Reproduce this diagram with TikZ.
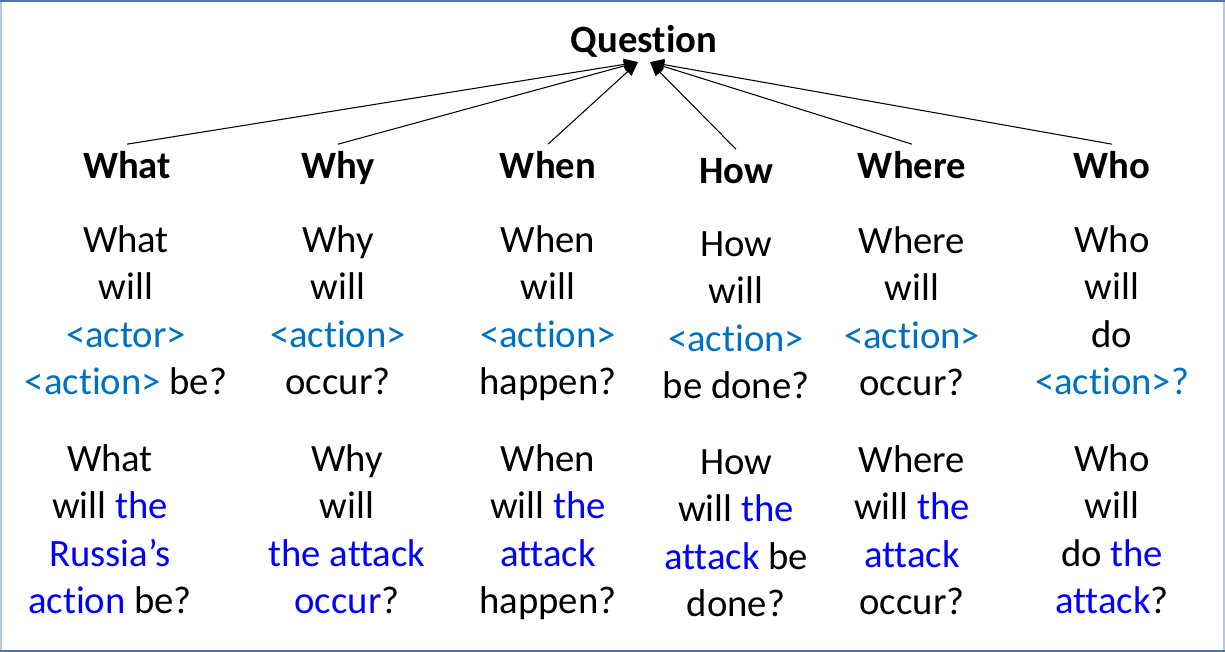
\documentclass[tikz,border=0pt]{standalone}
\usepackage{fontspec}
\setmainfont{Carlito}[Ligatures=NoCommon]
\usepackage{xcolor}
\usepackage{tikz}
\usetikzlibrary{arrows.meta}
\definecolor{slot}{HTML}{0070C0}
\definecolor{inst}{HTML}{0000FF}
\definecolor{framedark}{HTML}{4F75A3}
\definecolor{framelite}{HTML}{B4C8E2}
\newcommand{\plh}[1]{\textcolor{slot}{#1}}
\newcommand{\atk}[1]{\textcolor{inst}{#1}}

\begin{document}
\begin{tikzpicture}[x=0.01cm,y=-0.01cm,
  head/.style={font=\fontsize{11}{13.45}\selectfont\bfseries,anchor=base,
               text height=7pt,text depth=0pt,inner xsep=0pt,inner ysep=2.9pt,outer sep=0pt},
  cell/.style={font=\fontsize{11}{13.45}\selectfont,align=center,anchor=north,inner sep=0pt},
  arr/.style={-{Triangle[length=4pt,width=3.2pt]},line width=0.3pt}
]
\useasboundingbox (0,0) rectangle (1225,652);
\draw[framelite,line width=0.6pt] (1,1) rectangle (1224,651);
\draw[framedark,line width=0.6pt] (0,1) -- (1225,1) (0,651) -- (1225,651);

% top and the six kinds
\node[head,inner ysep=2.6pt] (q) at (644,53) {Question};
\node[head] (what) at (127,179) {What};
\node[head] (why) at (338,179) {Why};
\node[head] (when) at (548,179) {When};
\node[head] (how) at (736,184) {How};
\node[head] (where) at (912,179) {Where};
\node[head] (who) at (1112,179) {Who};

\foreach \k in {what,why,when} \draw[arr] (\k.north) -- ([xshift=-1.7pt]q.south);
\foreach \k in {how,where,who} \draw[arr] (\k.north) -- ([xshift=1.7pt]q.south);

% templates
\node[cell] (what1) at (126,225) {What\\will\\\plh{<actor>}\\\plh{<action>} be?};
\node[cell] (why1) at (338,225) {Why\\will\\\plh{<action>}\\occur?};
\node[cell] (when1) at (548,225) {When\\will\\\plh{<action>}\\happen?};
\node[cell] (how1) at (736,231) {How\\will\\\plh{<action>}\\be done?};
\node[cell] (where1) at (912,226) {Where\\will\\\plh{<action>}\\occur?};
\node[cell] (who1) at (1112,225) {Who\\will\\do\\\plh{<action>?}};

% filled in
\node[cell] (what2) at (110,444) {What\\will \atk{the}\\\atk{Russia’s}\\\atk{action} be?};
\node[cell] (why2) at (347,444) {Why\\will\\\atk{the attack}\\\atk{occur}?};
\node[cell] (when2) at (548,444) {When\\will \atk{the}\\\atk{attack}\\happen?};
\node[cell] (how2) at (736,449) {How\\will \atk{the}\\\atk{attack} be\\done?};
\node[cell] (where2) at (912,445) {Where\\will \atk{the}\\\atk{attack}\\occur?};
\node[cell] (who2) at (1112,444) {Who\\will\\do \atk{the}\\\atk{attack}?};
\end{tikzpicture}
\end{document}
